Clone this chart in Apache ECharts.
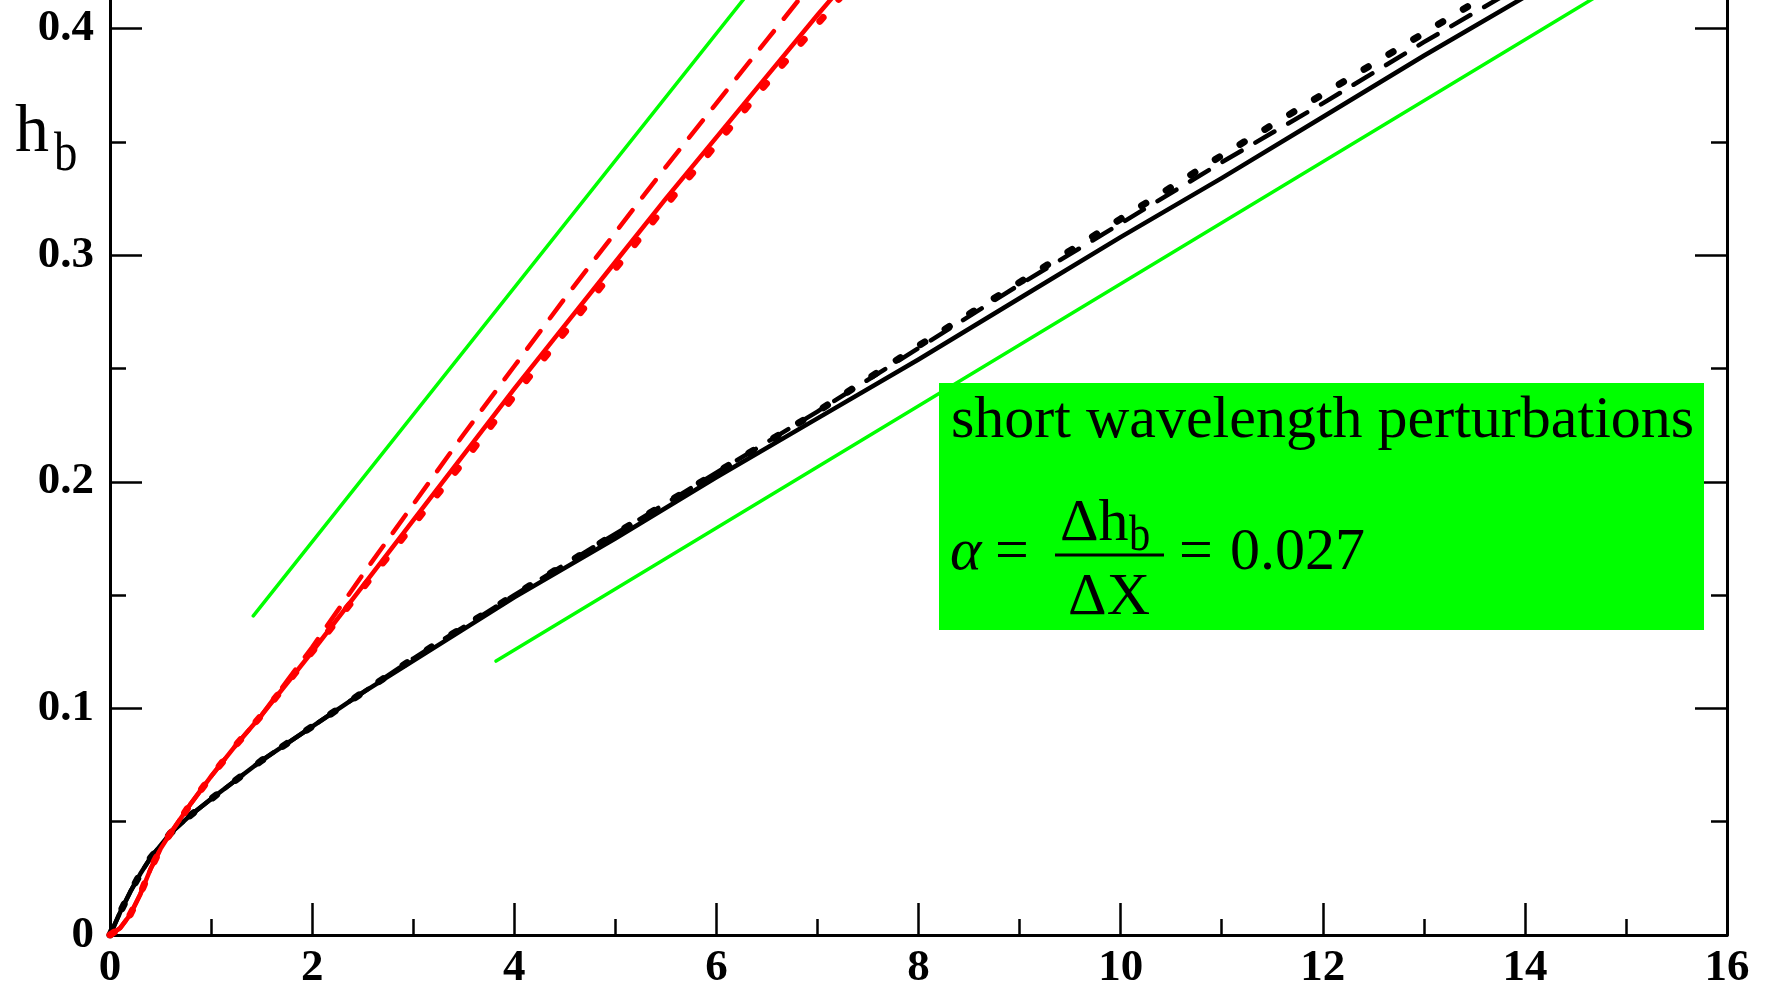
<!DOCTYPE html>
<html>
<head>
<meta charset="utf-8">
<script src="https://cdn.jsdelivr.net/npm/echarts@6/dist/echarts.min.js"></script>
<style>
html, body { margin: 0; padding: 0; background: #fff; }
#main { width: 1769px; height: 989px; }
</style>
</head>
<body>
<div id="main"></div>
<script>
// h_b against X
var xTicks = [0, 2, 4, 6, 8, 10, 12, 14, 16];
var yTicks = [0, 0.1, 0.2, 0.3, 0.4];

var redSolid = [[0, 0], [0.1, 0.003], [0.2, 0.009], [0.3, 0.018], [0.4, 0.029], [0.5, 0.038], [0.6, 0.045],
    [0.8, 0.058], [1.0, 0.070], [1.25, 0.084], [1.5, 0.097], [1.75, 0.111], [2.0, 0.125], [2.5, 0.154],
    [3.0, 0.183], [3.5, 0.212], [4.0, 0.241], [4.5, 0.269], [5.0, 0.297], [5.5, 0.325], [6.0, 0.352],
    [6.5, 0.379], [7.0, 0.406], [7.5, 0.432]];
var redDashed = [[0, 0], [0.1, 0.003], [0.2, 0.009], [0.3, 0.018], [0.4, 0.029], [0.5, 0.038], [0.6, 0.045],
    [0.8, 0.058], [1.0, 0.070], [1.25, 0.084], [1.5, 0.097], [1.75, 0.112], [2.0, 0.127], [2.5, 0.159],
    [3.0, 0.190], [3.5, 0.221], [4.0, 0.251], [4.5, 0.281], [5.0, 0.310], [5.5, 0.339], [6.0, 0.367],
    [6.5, 0.395], [7.0, 0.423]];
var redDotted = [[0, 0], [0.1, 0.003], [0.2, 0.009], [0.3, 0.018], [0.4, 0.029], [0.5, 0.038], [0.6, 0.045],
    [0.8, 0.058], [1.0, 0.070], [1.25, 0.084], [1.5, 0.097], [1.75, 0.111], [2.0, 0.125], [2.5, 0.153],
    [3.0, 0.181], [3.5, 0.209], [4.0, 0.238], [4.5, 0.266], [5.0, 0.294], [5.5, 0.322], [6.0, 0.349],
    [6.5, 0.376], [7.0, 0.402], [7.5, 0.428]];

var blackSolid = [[0, 0], [0.1, 0.010], [0.2, 0.019], [0.3, 0.027], [0.4, 0.034], [0.6, 0.045], [0.8, 0.053],
    [1.0, 0.060], [1.5, 0.077], [2.0, 0.092], [2.5, 0.107], [3.0, 0.121], [3.5, 0.135], [4.0, 0.149],
    [5.0, 0.175], [6.0, 0.202], [7.0, 0.228], [8.0, 0.254], [9.0, 0.281], [10.0, 0.308], [11.0, 0.334],
    [12.0, 0.361], [13.0, 0.388], [14.0, 0.414], [14.5, 0.428]];
var blackDashed = [[0, 0], [0.1, 0.010], [0.2, 0.019], [0.3, 0.027], [0.4, 0.034], [0.6, 0.045], [0.8, 0.053],
    [1.0, 0.060], [1.5, 0.077], [2.0, 0.092], [2.5, 0.107], [3.0, 0.122], [4.0, 0.150], [5.0, 0.177],
    [6.0, 0.204], [7.0, 0.231], [8.0, 0.259], [9.0, 0.287], [10.0, 0.314], [11.0, 0.341], [12.0, 0.367],
    [13.0, 0.394], [14.0, 0.420]];
var blackDotted = [[0, 0], [0.1, 0.010], [0.2, 0.019], [0.3, 0.027], [0.4, 0.034], [0.6, 0.045], [0.8, 0.053],
    [1.0, 0.060], [1.5, 0.077], [2.0, 0.092], [2.5, 0.107], [3.0, 0.122], [4.0, 0.150], [5.0, 0.177],
    [6.0, 0.204], [7.0, 0.231], [8.0, 0.260], [9.0, 0.288], [10.0, 0.316], [11.0, 0.344], [12.0, 0.371],
    [13.0, 0.398], [14.0, 0.425]];

// the two fitted slopes
var greenLong = [[1.418, 0.1408], [6.6, 0.4315]];
var greenShort = [[3.82, 0.1209], [15.0, 0.422]];

var serif = '"Liberation Serif", "DejaVu Serif", serif';
var dashPat = [22, 16];
var dotPat = [5, 24];

function curve(data, color, width, type) {
    return {
        type: 'line',
        data: data,
        symbol: 'none',
        clip: true,
        lineStyle: { color: color, width: width, type: type, cap: 'round', join: 'round' }
    };
}

function txt(x, y, s, size, opt) {
    opt = opt || {};
    return {
        type: 'text',
        x: x,
        y: y,
        scaleX: opt.sx || 1,
        z: 100,
        style: {
            text: s,
            font: (opt.style || '') + ' ' + size + 'px ' + serif,
            fill: '#000',
            textAlign: opt.align || 'left',
            textVerticalAlign: 'middle'
        }
    };
}

function yAxisDef(pos, labels) {
    return {
        type: 'value',
        position: pos,
        min: 0,
        max: 0.5,
        interval: 0.1,
        axisLine: { show: true, onZero: false, lineStyle: { color: '#000', width: 3 } },
        axisTick: { show: true, inside: true, length: 32, lineStyle: { color: '#000', width: 2.5 } },
        minorTick: { show: true, splitNumber: 2, length: 16, lineStyle: { color: '#000', width: 2.5 } },
        splitLine: { show: false },
        axisLabel: {
            show: labels,
            margin: 16,
            fontFamily: serif,
            fontWeight: 'bold',
            fontSize: 45,
            color: '#000',
            formatter: function (v) {
                var r = Math.round(v * 10) / 10;
                return Math.abs(v - r) < 1e-6 && yTicks.indexOf(r) >= 0 ? String(r) : '';
            }
        }
    };
}

var myChart = echarts.init(document.getElementById('main'), null, { renderer: 'canvas' });

var option = {
    animation: false,
    backgroundColor: '#fff',
    grid: { left: 110, right: 42, top: -198, bottom: 54, outerBoundsMode: 'none' },
    xAxis: {
        type: 'value',
        min: xTicks[0],
        max: xTicks[xTicks.length - 1],
        interval: 2,
        axisLine: { show: true, onZero: false, lineStyle: { color: '#000', width: 3 } },
        axisTick: { show: true, inside: true, length: 32, lineStyle: { color: '#000', width: 2.5 } },
        minorTick: { show: true, splitNumber: 2, length: 16, lineStyle: { color: '#000', width: 2.5 } },
        splitLine: { show: false },
        axisLabel: {
            margin: 11,
            fontFamily: serif,
            fontWeight: 'bold',
            fontSize: 45,
            color: '#000'
        }
    },
    yAxis: [yAxisDef('left', true), yAxisDef('right', false)],
    series: [
        curve(blackDotted, '#000', 7, dotPat),
        curve(blackDashed, '#000', 4.5, dashPat),
        curve(blackSolid, '#000', 4.5, 'solid'),
        curve(redDotted, '#ff0000', 7, dotPat),
        curve(redDashed, '#ff0000', 4.5, dashPat),
        curve(redSolid, '#ff0000', 4.5, 'solid'),
        curve(greenLong, '#00ff00', 3.5, 'solid'),
        curve(greenShort, '#00ff00', 3.5, 'solid')
    ],
    graphic: [
        // axis title h_b
        txt(15, 133, 'h', 68),
        txt(54, 156, 'b', 55, { sx: 0.85 }),
        // annotation box
        {
            type: 'rect',
            z: 90,
            shape: { x: 939, y: 383, width: 765, height: 247 },
            style: { fill: '#00ff00' }
        },
        txt(951, 421, 'short wavelength perturbations', 60),
        txt(950, 553, '\u03b1', 60, { style: 'italic' }),
        txt(995, 553, '=', 60),
        txt(1060, 524, '\u0394h', 60),
        txt(1129, 537, 'b', 50, { sx: 0.85 }),
        {
            type: 'rect',
            z: 100,
            shape: { x: 1055, y: 553.5, width: 109, height: 3 },
            style: { fill: '#000' }
        },
        txt(1109, 598, '\u0394X', 60, { align: 'center' }),
        txt(1179, 553, '=', 60),
        txt(1230, 553, '0.027', 60)
    ]
};

myChart.setOption(option);
</script>
</body>
</html>
